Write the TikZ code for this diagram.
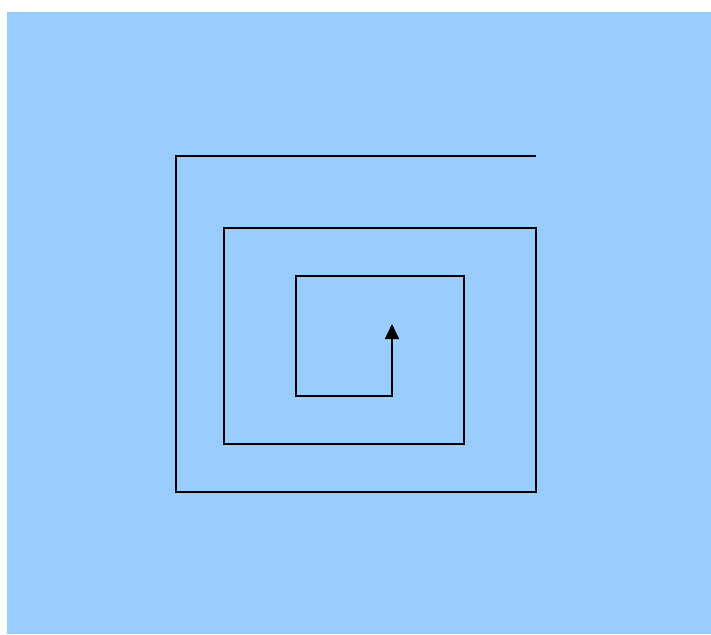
\documentclass[tikz,border=0pt]{standalone}
\usetikzlibrary{arrows.meta}
\definecolor{bg}{HTML}{99CCFF}
\begin{document}
\begin{tikzpicture}[x=1pt,y=-1pt,spiral/.style={draw=black,line width=1.6pt,line join=miter}]
\useasboundingbox (0,0) rectangle (711,634);
\fill[bg] (7,12) rectangle (711,634);
\coordinate (s) at (536,156);
\coordinate (e) at (392,324);
\draw[spiral,-{Triangle[length=15pt,width=14pt]}] (s) -- (176,156) -- (176,492) -- (536,492) -- (536,228) -- (224,228) -- (224,444) -- (464,444) -- (464,276) -- (296,276) -- (296,396) -- (392,396) -- (e);
\end{tikzpicture}
\end{document}
